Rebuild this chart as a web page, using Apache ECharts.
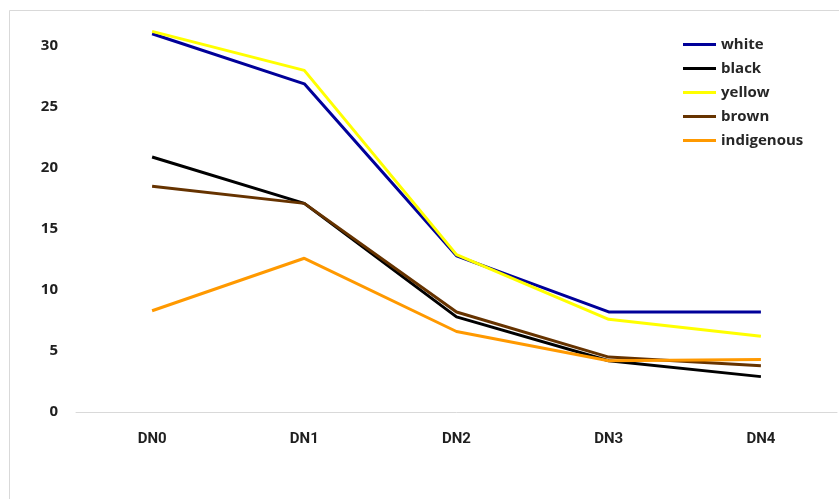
<!DOCTYPE html>
<html>
<head>
<meta charset="utf-8">
<style>
  html, body { margin: 0; padding: 0; background: #ffffff; }
  #chart { width: 839px; height: 499px; }
</style>
<script src="https://cdn.jsdelivr.net/npm/echarts@6/dist/echarts.min.js"></script>
</head>
<body>
<div id="chart"></div>
<script>
// Categories along the x axis
var categories = ['DN0', 'DN1', 'DN2', 'DN3', 'DN4'];

// Values per group
var white = [31.0, 26.9, 12.8, 8.2, 8.2];
var black = [20.9, 17.1, 7.8, 4.2, 2.9];
var yellow = [31.2, 28.0, 12.9, 7.6, 6.2];
var brown = [18.5, 17.1, 8.2, 4.5, 3.8];
var indigenous = [8.3, 12.6, 6.6, 4.2, 4.3];

var seriesNames = ['white', 'black', 'yellow', 'brown', 'indigenous'];
var seriesData = [white, black, yellow, brown, indigenous];
var seriesColors = ['#000099', '#000000', '#ffff00', '#663300', '#ff9900'];

var labelFont = 'Roboto, "Open Sans", sans-serif';

var chart = echarts.init(document.getElementById('chart'), null, { renderer: 'canvas' });

chart.setOption({
  animation: false,
  backgroundColor: '#ffffff',
  graphic: [{
    type: 'rect',
    shape: { x: 9.5, y: 10.5, width: 840, height: 500 },
    style: { fill: 'none', stroke: '#d9d9d9', lineWidth: 1 },
    silent: true
  }],
  grid: { left: 76, right: 2, top: 46, bottom: 87, containLabel: false },
  legend: {
    orient: 'vertical',
    left: 678,
    top: 31,
    itemWidth: 33,
    itemHeight: 3,
    itemGap: 7,
    icon: 'rect',
    data: seriesNames,
    textStyle: {
      fontFamily: '"Open Sans", sans-serif',
      fontWeight: 'bold',
      fontSize: 15,
      lineHeight: 17,
      color: '#262626'
    }
  },
  xAxis: {
    type: 'category',
    data: categories,
    boundaryGap: true,
    axisLine: { show: true, lineStyle: { color: '#d9d9d9', width: 1 } },
    axisTick: { show: false },
    axisLabel: {
      margin: 20,
      fontFamily: labelFont,
      fontWeight: 'bold',
      fontSize: 15,
      color: '#1f1f1f'
    },
    splitLine: { show: false }
  },
  yAxis: {
    type: 'value',
    min: 0,
    max: 30,
    interval: 5,
    axisLine: { show: false },
    axisTick: { show: false },
    splitLine: { show: false },
    axisLabel: {
      margin: 18,
      fontFamily: '"Open Sans", sans-serif',
      fontWeight: 'bold',
      fontSize: 15,
      color: '#1f1f1f'
    }
  },
  series: seriesNames.map(function (name, i) {
    return {
      name: name,
      type: 'line',
      data: seriesData[i],
      clip: false,
      symbol: 'none',
      lineStyle: { width: 3, color: seriesColors[i] },
      itemStyle: { color: seriesColors[i] }
    };
  })
});
</script>
</body>
</html>
